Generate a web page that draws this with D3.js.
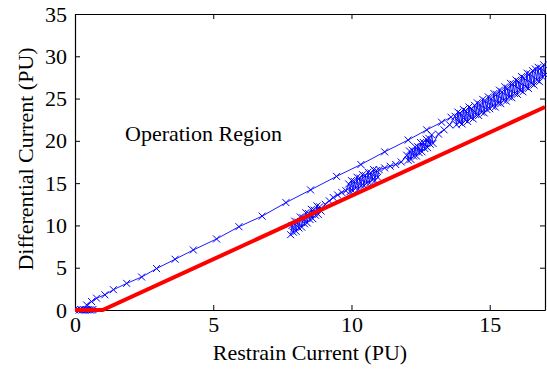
<!DOCTYPE html>
<html>
<head>
<meta charset="utf-8">
<script src="https://cdn.jsdelivr.net/npm/d3@7"></script>
<style>
  body { margin: 0; background: #fff; }
  svg text { font-family: "Liberation Serif", "Times New Roman", serif; fill: #000; }
</style>
</head>
<body>
<div id="chart"></div>
<script>
// restraint characteristic (red)
var charX = [0, 1, 17];
var charY = [0, 0, 24];

// first trajectory: cluster at origin then the sparse upper line
var trajAX = [0.15, 0.2, 0.25, 0.3, 0.35, 0.4, 0.45, 0.5, 0.55, 0.6, 0.65, 0.42, 0.6, 0.78, 1.08, 1.39, 1.87, 2.41, 2.95, 3.62, 4.28, 5.12, 5.93, 6.77, 7.63, 8.52, 9.46, 10.34, 11.2, 12.05, 12.72, 13.26, 13.6];
var trajAY = [0, 0.05, 0, 0.05, 0, 0.05, 0, 0.05, 0, 0, 0.05, 0.6, 1.0, 1.4, 1.8, 2.4, 3.15, 3.9, 4.9, 6.0, 7.1, 8.4, 9.85, 11.1, 12.7, 14.2, 15.8, 17.2, 18.7, 20.1, 21.3, 22.2, 22.8];

// second trajectory: the dense band close to the red line
var trajBX = [7.80, 7.85, 7.90, 7.95, 8.00, 8.05, 8.10, 8.15, 8.20, 8.25, 8.30, 8.35, 8.40, 8.45, 8.50, 8.55, 8.60, 8.65, 8.70, 8.75, 8.80, 8.85, 8.90,
  9.05, 9.2, 9.34, 9.5, 9.65, 9.8,
  9.9, 9.95, 10.0, 10.05, 10.1, 10.15, 10.2, 10.25, 10.3, 10.35, 10.4, 10.45, 10.5, 10.55, 10.6, 10.65, 10.7, 10.75, 10.8, 10.85, 10.9, 10.95, 11.0,
  11.2, 11.4, 11.6, 11.8,
  12.0, 12.05, 12.1, 12.15, 12.2, 12.25, 12.3, 12.35, 12.4, 12.45, 12.5, 12.55, 12.6, 12.65, 12.7, 12.75, 12.8, 12.85, 12.9, 12.95,
  13.15, 13.35, 13.55,
  13.75, 13.80, 13.85, 13.90, 13.95, 14.00, 14.05, 14.10, 14.15, 14.20, 14.25, 14.30, 14.35, 14.40, 14.45, 14.50, 14.55, 14.60, 14.65, 14.70,
  14.75, 14.80, 14.85, 14.90, 14.95, 15.00, 15.05, 15.10, 15.15, 15.20, 15.25, 15.30, 15.35, 15.40, 15.45, 15.50, 15.55, 15.60, 15.65, 15.70,
  15.75, 15.80, 15.85, 15.90, 15.95, 16.00, 16.05, 16.10, 16.15, 16.20, 16.25, 16.30, 16.35, 16.40, 16.45, 16.50, 16.55, 16.60, 16.65, 16.70,
  16.75, 16.80, 16.85, 16.90, 16.95, 17.00];
var trajBY = [8.9, 10.0, 9.2, 10.5, 9.3, 10.4, 9.7, 11.0, 9.8, 10.9, 10.2, 11.5, 10.3, 11.4, 10.7, 11.9, 10.8, 11.8, 11.2, 12.3, 11.3, 12.2, 11.7,
  12.5, 12.9, 13.3, 13.6, 13.9, 14.1,
  14.9, 14.0, 15.3, 14.1, 15.2, 14.4, 15.7, 14.3, 15.6, 14.7, 16.0, 14.7, 15.9, 15.0, 16.3, 15.0, 16.2, 15.4, 16.6, 15.3, 16.5, 15.7, 16.6,
  16.8, 17.0, 17.2, 17.5,
  18.3, 17.7, 18.8, 17.8, 18.9, 18.2, 19.3, 18.2, 19.3, 18.6, 19.8, 18.7, 19.8, 19.1, 20.2, 19.2, 20.3, 19.6, 20.7, 19.7,
  20.8, 21.3, 21.9,
  22.9, 21.9, 23.4, 22.2, 23.2, 22.0, 23.7, 22.5, 23.5, 22.3, 24.0, 22.8, 23.8, 22.6, 24.2, 23.1, 24.5, 23.0, 24.3, 23.4,
  24.9, 23.3, 24.7, 23.7, 25.2, 23.8, 25.0, 24.1, 25.6, 24.0, 25.5, 24.5, 26.0, 24.4, 25.8, 24.8, 26.4, 24.7, 26.2, 25.2,
  26.8, 25.1, 26.7, 25.6, 27.2, 25.5, 27.0, 26.0, 27.6, 25.8, 27.4, 26.4, 28.0, 26.2, 27.9, 26.8, 28.3, 26.6, 28.5, 27.2,
  28.7, 27.0, 28.6, 27.6, 29.0, 27.8];

var xTicks = [0, 5, 10, 15];
var yTicks = [0, 5, 10, 15, 20, 25, 30, 35];
var xTitle = "Restrain Current (PU)";
var yTitle = "Differential Current (PU)";
var note = "Operation Region";

var margin = {top: 14, right: 2, bottom: 59, left: 75}
  , width = 547 - margin.left - margin.right
  , height = 369 - margin.top - margin.bottom;

var svg = d3.select("#chart").append("svg")
    .attr("width", 547)
    .attr("height", 369)
  .append("g")
    .attr("transform", "translate(" + margin.left + "," + margin.top + ")");

var xScale = d3.scaleLinear().domain([0, 17]).range([0, width]);
var yScale = d3.scaleLinear().domain([0, 35]).range([height, 0]);

// axes, ticks pointing inwards on all four sides
var bottom = svg.append("g")
    .attr("transform", "translate(0," + height + ")")
    .call(d3.axisBottom(xScale).tickValues(xTicks).tickSizeInner(-5).tickSizeOuter(0).tickPadding(6));
var top_ = svg.append("g")
    .call(d3.axisTop(xScale).tickValues(xTicks).tickSizeInner(-5).tickSizeOuter(0).tickFormat(""));
var left = svg.append("g")
    .call(d3.axisLeft(yScale).tickValues(yTicks).tickSizeInner(-5).tickSizeOuter(0).tickPadding(8));
var right = svg.append("g")
    .attr("transform", "translate(" + width + ",0)")
    .call(d3.axisRight(yScale).tickValues(yTicks).tickSizeInner(-5).tickSizeOuter(0).tickFormat(""));

[bottom, top_, left, right].forEach(function(a) {
    a.selectAll("path").attr("stroke", "#000").attr("stroke-width", 1.2);
    a.selectAll("line").attr("stroke", "#000").attr("stroke-width", 1);
    a.selectAll("text").style("font-size", "22px").attr("fill", "#000");
});

var line = d3.line()
    .x(function(d) { return xScale(d[0]); })
    .y(function(d) { return yScale(d[1]); });

function drawTraj(xs, ys) {
    var pts = xs.map(function(x, i) { return [x, ys[i]]; });
    svg.append("path")
        .datum(pts)
        .attr("fill", "none")
        .attr("stroke", "#0000ff")
        .attr("stroke-width", 0.9)
        .attr("d", line);
    var s = 3.5;
    svg.append("g").selectAll("path")
        .data(pts)
      .enter().append("path")
        .attr("d", function(d) {
            var cx = xScale(d[0]), cy = yScale(d[1]);
            return "M" + (cx - s) + "," + (cy - s) + "L" + (cx + s) + "," + (cy + s) +
                   "M" + (cx - s) + "," + (cy + s) + "L" + (cx + s) + "," + (cy - s);
        })
        .attr("stroke", "#0000ff")
        .attr("stroke-width", 1)
        .attr("fill", "none");
}
drawTraj(trajAX, trajAY);
drawTraj(trajBX, trajBY);

// red characteristic on top
svg.append("path")
    .datum(charX.map(function(x, i) { return [x, charY[i]]; }))
    .attr("fill", "none")
    .attr("stroke", "#ff0000")
    .attr("stroke-width", 4)
    .attr("d", line);

svg.append("text")
    .attr("x", 50)
    .attr("y", 127)
    .style("font-size", "22px")
    .text(note);

svg.append("text")
    .attr("x", width / 2)
    .attr("y", height + 50)
    .attr("text-anchor", "middle")
    .style("font-size", "22px")
    .text(xTitle);

svg.append("text")
    .attr("transform", "translate(-42," + (height / 2 - 3) + ")rotate(-90)")
    .attr("text-anchor", "middle")
    .style("font-size", "22px")
    .text(yTitle);
</script>
</body>
</html>
